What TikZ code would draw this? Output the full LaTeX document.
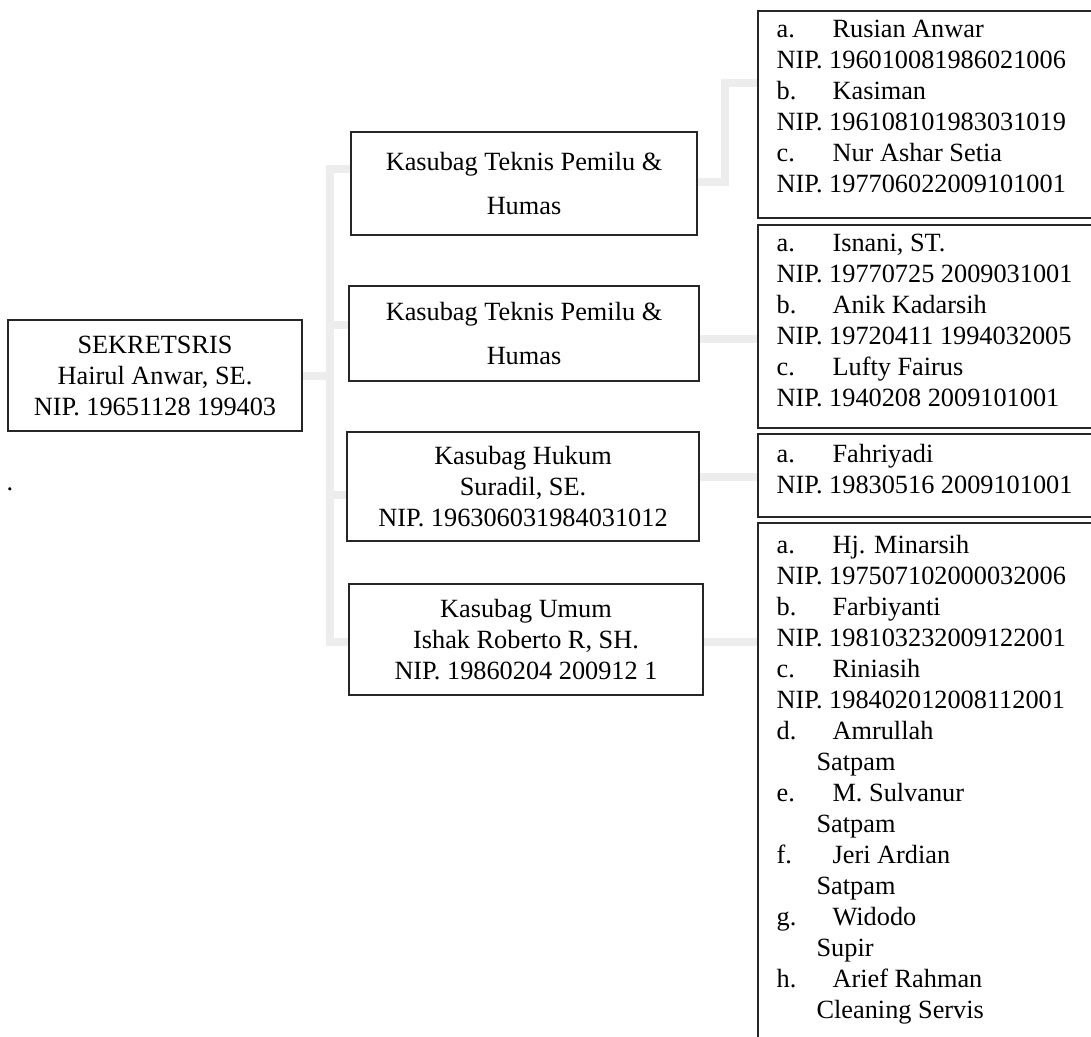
\documentclass[tikz,border=0pt]{standalone}
\usepackage{fontspec}
\setmainfont{Liberation Serif}
\newcommand{\itm}[2]{\makebox[56pt][l]{#1}#2}
\begin{document}
\begin{tikzpicture}[
        x=1pt, y=-1pt,
        font=\fontsize{26.3}{31}\selectfont
    ]
    \tikzset{
        lbox/.style = {rectangle, draw=black!85, line width=1.2pt, align=center, inner sep=0pt},
        tbox/.style = {lbox, font=\fontsize{26.3}{44}\selectfont},
        rbox/.style = {rectangle, draw=black!85, line width=1.2pt, inner sep=0pt, minimum width=342pt},
        rtext/.style = {anchor=north west, align=left, inner sep=0pt},
        conn/.style = {line width=8pt, black!7},
    }
    \useasboundingbox (0,0) rectangle (1091,1036);
    %
    \node[lbox, minimum width=294pt, minimum height=111pt] at (155,375.5) (sek)
        {SEKRETSRIS\\Hairul Anwar, SE.\\NIP. 19651128 199403};
    \node[inner sep=0pt, anchor=base] at (10,490) (dot) {.};
    %
    \node[tbox, minimum width=346pt, minimum height=103pt] at (524,183.5) (t1)
        {Kasubag Teknis Pemilu \&\\Humas};
    \node[tbox, minimum width=350pt, minimum height=95pt] at (524,333.5) (t2)
        {Kasubag Teknis Pemilu \&\\Humas};
    \node[lbox, minimum width=352pt, minimum height=109pt] at (523,486.5) (hukum)
        {Kasubag Hukum\\Suradil, SE.\\NIP. 196306031984031012};
    \node[lbox, minimum width=354pt, minimum height=111pt] at (526,639.5) (umum)
        {Kasubag Umum\\Ishak Roberto R, SH.\\NIP. 19860204 200912 1};
    %
    \node[rbox, minimum height=207pt] at (929,114.5) (r1) {};
    \node[rbox, minimum height=203pt] at (929,326.5) (r2) {};
    \node[rbox, minimum height=83pt] at (929,475.5) (r3) {};
    \node[rbox, minimum height=527pt] at (929,786.5) (r4) {};
    %
    \node[rtext] at ([xshift=19pt,yshift=-9pt]r1.north west) (r1txt)
        {\itm{a.}{Rusian Anwar}\\
         NIP. 196010081986021006\\
         \itm{b.}{Kasiman}\\
         NIP. 196108101983031019\\
         \itm{c.}{Nur Ashar Setia}\\
         NIP. 197706022009101001};
    \node[rtext] at ([xshift=19pt,yshift=-9pt]r2.north west) (r2txt)
        {\itm{a.}{Isnani, ST.}\\
         NIP. 19770725 2009031001\\
         \itm{b.}{Anik Kadarsih}\\
         NIP. 19720411 1994032005\\
         \itm{c.}{Lufty Fairus}\\
         NIP. 1940208 2009101001};
    \node[rtext] at ([xshift=19pt,yshift=-11pt]r3.north west) (r3txt)
        {\itm{a.}{Fahriyadi}\\
         NIP. 19830516 2009101001};
    \node[rtext] at ([xshift=19pt,yshift=-13pt]r4.north west) (r4txt)
        {\itm{a.}{Hj. Minarsih}\\
         NIP. 197507102000032006\\
         \itm{b.}{Farbiyanti}\\
         NIP. 198103232009122001\\
         \itm{c.}{Riniasih}\\
         NIP. 198402012008112001\\
         \itm{d.}{Amrullah}\\
         \hspace*{40pt}Satpam\\
         \itm{e.}{M. Sulvanur}\\
         \hspace*{40pt}Satpam\\
         \itm{f.}{Jeri Ardian}\\
         \hspace*{40pt}Satpam\\
         \itm{g.}{Widodo}\\
         \hspace*{40pt}Supir\\
         \itm{h.}{Arief Rahman}\\
         \hspace*{40pt}Cleaning Servis};
    %
    \coordinate (bus) at (330,375.5);
    \draw[conn] (sek.east) -- (bus);
    \draw[conn] ([yshift=14.5pt]t1.west) -| (bus);
    \draw[conn] ([yshift=8.5pt]t2.west) -| (bus);
    \draw[conn] ([yshift=-8.5pt]hukum.west) -| (bus);
    \draw[conn] ([yshift=-2.5pt]umum.west) -| (bus);
    %
    \draw[conn] ([yshift=1.5pt]t1.east) -- ++(27,0) |- ([yshift=31.5pt]r1.west);
    \draw[conn] ([yshift=-5.5pt]t2.east) -- ([yshift=-12.5pt]r2.west);
    \draw[conn] ([yshift=9.5pt]hukum.east) -- ([yshift=-1.5pt]r3.west);
    \draw[conn] ([yshift=-2.5pt]umum.east) -- ([yshift=144.5pt]r4.west);
\end{tikzpicture}
\end{document}
